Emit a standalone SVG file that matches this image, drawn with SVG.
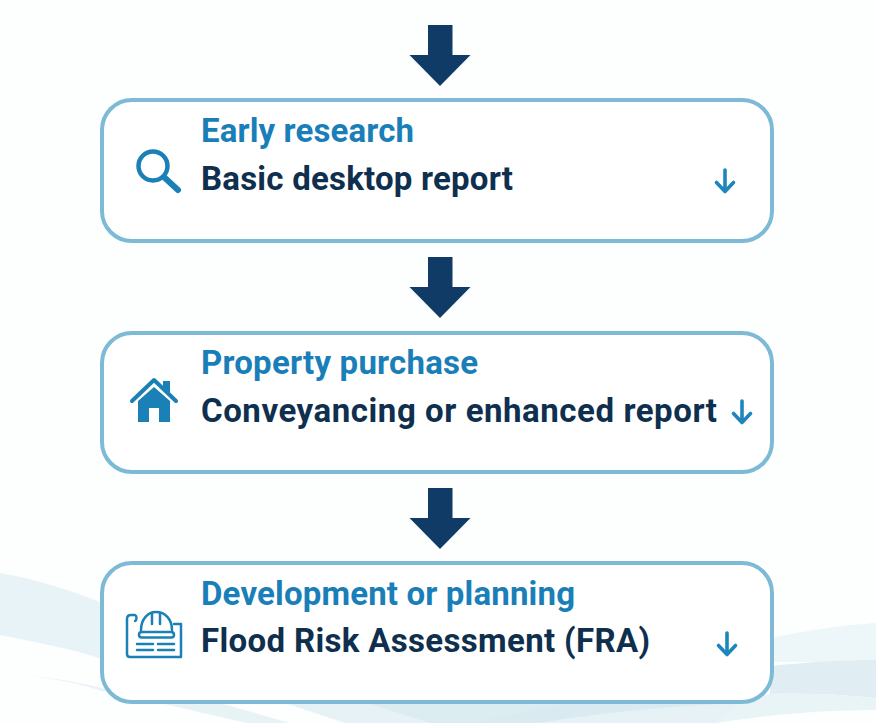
<svg xmlns="http://www.w3.org/2000/svg" width="876" height="723" viewBox="0 0 876 723">
<defs>
<path id="flow" d="M428 0H452.500V30H470.500L440 61 409.500 30H428Z" fill="#0f3b66"/>
<path id="small" d="M0 -11V10.500M-8.500 1.500L0 10.500 8.500 1.500" fill="none" stroke="#1f86bd" stroke-width="3.600" stroke-linecap="round" stroke-linejoin="round"/>
</defs>
<style>
.box{fill:#fff;stroke:#7dbad5;stroke-width:4}
.t1{font:700 33px Roboto,"Liberation Sans",sans-serif;fill:#1a7fb8}
.t2{font:700 33px Roboto,"Liberation Sans",sans-serif;fill:#0f2f4f}
.ic{fill:none;stroke:#1a80b6;stroke-linecap:round;stroke-linejoin:round}
</style>
<rect width="876" height="723" fill="#fdfefe"/>
<g id="background">
<path d="M0 573C40 580 75 592 105 604V660C70 648 35 642 0 635Z" fill="#e7f3f6"/>
<path d="M0 674C40 675 75 682 105 692V689C70 680 35 675 0 674Z" fill="#e9f3f7"/>
<path d="M160 703H220L290 723H247Z" fill="#e8f3f6"/>
<path d="M285 703H770L716 723H345Z" fill="#e6f2f6"/>
<path d="M370 704H560L470 723H430Z" fill="#dcedf1"/>
<path d="M560 704H720C680 706 600 712 540 723H470Z" fill="#d9eaf1"/>
<path d="M770 638C810 630 845 625 876 623V662H770Z" fill="#edf6f8"/>
<path d="M770 666C810 662 845 660 876 660V698C840 694 805 693 770 694Z" fill="#e0eef3"/>
<path d="M716 723C770 714 830 710 876 710V698C840 694 805 693 770 694L740 704Z" fill="#e9f4f7"/>
</g>
<g id="connectors">
<use href="#flow" y="25"/>
<use href="#flow" y="257"/>
<use href="#flow" y="488"/>
</g>
<g id="node-research">
<rect class="box" x="102" y="100" width="670" height="141" rx="30"/>
<text class="t1" x="201" y="142" textLength="213">Early research</text>
<text class="t2" x="201" y="190" textLength="312">Basic desktop report</text>
<circle class="ic" cx="153" cy="166" r="14.500" stroke-width="4.500"/>
<path class="ic" d="M165 178L178 190" stroke-width="6"/>
<use href="#small" x="725" y="181"/>
</g>
<g id="node-purchase">
<rect class="box" x="102" y="333" width="670" height="139" rx="30"/>
<text class="t1" x="201" y="374" textLength="277">Property purchase</text>
<text class="t2" x="201" y="422" textLength="516">Conveyancing or enhanced report</text>
<path fill="#1a80b6" d="M138 401L154 387 170 401V422H159V408H149V422H138Z"/>
<path fill="#1a80b6" d="M163 381H170V393L163 387Z"/>
<path class="ic" d="M132 401L154 380 176 401" stroke-width="4"/>
<use href="#small" x="742" y="412"/>
</g>
<g id="node-planning">
<rect class="box" x="102" y="563" width="670" height="139" rx="30"/>
<text class="t1" x="201" y="605" textLength="374">Development or planning</text>
<text class="t2" x="201" y="652" textLength="449">Flood Risk Assessment (FRA)</text>
<g class="ic" stroke-width="2.500">
<path d="M135 621C137 620 137 616 135 615H131Q127 615 127 619V654Q127 657 130 657H181V624H174"/>
<path d="M141 630C141 619 148 612 156 612C165 612 172 619 172 630"/>
<path d="M152 613V624M160 613V624"/>
<rect x="139" y="632" width="35" height="5.500" rx="2.750"/>
<path d="M137 644H153M158 644H174M137 650H153M158 650H174"/>
</g>
<use href="#small" x="727" y="644"/>
</g>
</svg>
